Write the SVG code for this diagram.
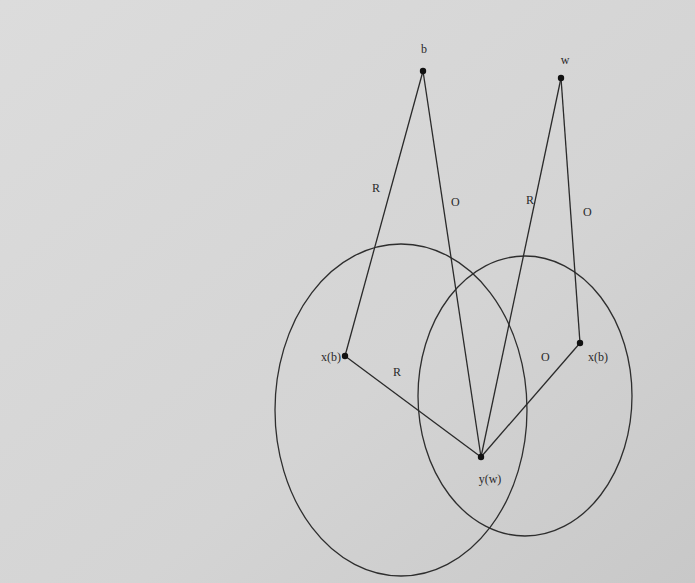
<svg xmlns="http://www.w3.org/2000/svg" width="695" height="583" viewBox="0 0 695 583">
<style>
  .ln { stroke: #2a2a2a; stroke-width: 1.3; fill: none; }
  .circ { stroke: #2e2e2e; stroke-width: 1.3; fill: none; }
  .pt { fill: #111; }
  .lbl { font-family: "Liberation Serif", "Times New Roman", serif; font-size: 12px; fill: #2a2a2a; }
</style>
<defs>
  <linearGradient id="bg" x1="0" y1="0" x2="1" y2="1">
    <stop offset="0" stop-color="#dcdcdc"/>
    <stop offset="0.6" stop-color="#d4d4d4"/>
    <stop offset="1" stop-color="#c8c8c8"/>
  </linearGradient>
</defs>
<rect x="0" y="0" width="695" height="583" fill="url(#bg)"/>
<g id="circles">
  <ellipse id="circle-left" class="circ" cx="401" cy="410" rx="126" ry="166"/>
  <ellipse id="circle-right" class="circ" cx="525" cy="396" rx="107" ry="140"/>
</g>
<g id="connectors">
  <line class="ln" x1="423" y1="71" x2="345" y2="356"/>
  <line class="ln" x1="423" y1="71" x2="481" y2="457"/>
  <line class="ln" x1="561" y1="78" x2="481" y2="457"/>
  <line class="ln" x1="561" y1="78" x2="580" y2="343"/>
  <line class="ln" x1="345" y1="356" x2="481" y2="457"/>
  <line class="ln" x1="580" y1="343" x2="481" y2="457"/>
  <text class="lbl" x="372" y="192">R</text>
  <text class="lbl" x="451" y="206">O</text>
  <text class="lbl" x="526" y="204">R</text>
  <text class="lbl" x="583" y="216">O</text>
  <text class="lbl" x="393" y="376">R</text>
  <text class="lbl" x="541" y="361">O</text>
</g>
<g id="node-b">
  <circle class="pt" cx="423" cy="71" r="3.2"/>
  <text class="lbl" x="424" y="53" text-anchor="middle">b</text>
</g>
<g id="node-w">
  <circle class="pt" cx="561" cy="78" r="3.2"/>
  <text class="lbl" x="565" y="64" text-anchor="middle">w</text>
</g>
<g id="node-xb-left">
  <circle class="pt" cx="345" cy="356" r="3.2"/>
  <text class="lbl" x="341" y="361" text-anchor="end">x(b)</text>
</g>
<g id="node-xb-right">
  <circle class="pt" cx="580" cy="343" r="3.2"/>
  <text class="lbl" x="588" y="361">x(b)</text>
</g>
<g id="node-yw">
  <circle class="pt" cx="481" cy="457" r="3.2"/>
  <text class="lbl" x="490" y="483" text-anchor="middle">y(w)</text>
</g>
</svg>
